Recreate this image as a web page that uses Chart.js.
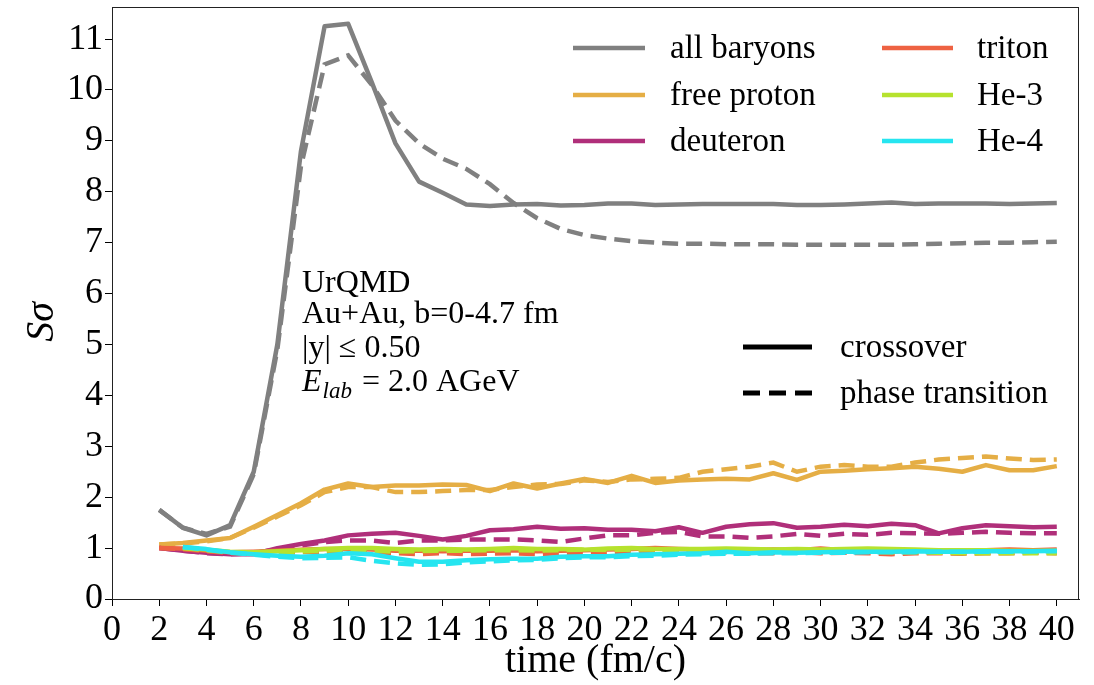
<!DOCTYPE html>
<html>
<head>
<meta charset="utf-8">
<script src="https://cdn.jsdelivr.net/npm/chart.js@4.4.1/dist/chart.umd.min.js"></script>
<style>
  html, body { margin: 0; padding: 0; background: #fff; }
  #wrap { width: 1094px; height: 685px; position: relative; }
</style>
</head>
<body>
<div id="wrap"><canvas id="c" width="1094" height="685"></canvas></div>
<script>
// ---------- data ----------
const time = [2,3,4,5,6,7,8,9,10,11,12,13,14,15,16,17,18,19,20,21,22,23,24,25,26,27,28,29,30,31,32,33,34,35,36,37,38,39,40];
const xTickLabels = [0,2,4,6,8,10,12,14,16,18,20,22,24,26,28,30,32,34,36,38,40];
const yTickLabels = [0,1,2,3,4,5,6,7,8,9,10,11];

const allBaryonsCross = [1.75,1.40,1.25,1.45,2.5,5.0,8.8,11.25,11.3,10.15,8.95,8.2,7.98,7.75,7.72,7.75,7.76,7.73,7.74,7.77,7.77,7.74,7.75,7.76,7.76,7.76,7.76,7.74,7.74,7.75,7.77,7.79,7.76,7.77,7.77,7.77,7.76,7.77,7.78];
const allBaryonsPT    = [1.75,1.40,1.28,1.42,2.45,4.9,8.5,10.5,10.68,10.1,9.4,8.95,8.65,8.45,8.15,7.78,7.48,7.27,7.15,7.08,7.03,7.0,6.98,6.98,6.97,6.97,6.97,6.96,6.96,6.96,6.96,6.96,6.97,6.98,6.99,7.0,7.0,7.01,7.02];

const protonCross = [1.07,1.1,1.15,1.2,1.42,1.65,1.88,2.15,2.27,2.2,2.23,2.23,2.25,2.24,2.12,2.27,2.17,2.27,2.36,2.28,2.42,2.28,2.33,2.35,2.36,2.35,2.47,2.34,2.5,2.52,2.55,2.57,2.6,2.56,2.5,2.63,2.53,2.53,2.61];
const protonPT    = [1.07,1.09,1.13,1.2,1.4,1.62,1.84,2.1,2.2,2.2,2.1,2.1,2.12,2.14,2.14,2.2,2.25,2.26,2.33,2.3,2.35,2.36,2.38,2.5,2.55,2.6,2.68,2.5,2.6,2.63,2.6,2.6,2.68,2.74,2.77,2.8,2.76,2.73,2.74];

const deuteronCross = [1.0,0.95,0.91,0.88,0.88,1.0,1.08,1.15,1.25,1.28,1.3,1.24,1.17,1.24,1.35,1.37,1.42,1.38,1.39,1.36,1.36,1.33,1.41,1.3,1.42,1.47,1.49,1.4,1.42,1.46,1.43,1.48,1.45,1.29,1.39,1.45,1.43,1.41,1.42];
const deuteronPT    = [1.0,0.95,0.9,0.88,0.9,0.98,1.05,1.12,1.15,1.15,1.1,1.15,1.15,1.17,1.17,1.17,1.15,1.12,1.19,1.25,1.25,1.3,1.32,1.23,1.23,1.2,1.23,1.28,1.24,1.28,1.26,1.3,1.29,1.28,1.3,1.32,1.3,1.29,1.29];

const tritonCross = [1.0,0.99,0.95,0.92,0.93,0.95,0.97,0.98,0.98,0.97,0.95,0.95,0.94,0.95,0.95,0.96,0.94,0.95,0.96,0.97,0.98,1.0,0.98,0.97,0.96,0.96,0.97,0.96,0.99,0.96,0.97,0.93,0.96,0.95,0.95,0.96,0.97,0.96,0.97];
const tritonPT    = [1.0,0.98,0.94,0.9,0.9,0.92,0.92,0.93,0.92,0.9,0.9,0.88,0.9,0.88,0.89,0.9,0.88,0.9,0.9,0.91,0.92,0.9,0.92,0.91,0.92,0.9,0.9,0.92,0.9,0.91,0.9,0.88,0.9,0.9,0.89,0.9,0.9,0.91,0.9];

const he3Cross = [null,1.0,0.97,0.93,0.92,0.94,0.96,0.98,1.0,1.0,0.98,0.97,0.98,0.97,0.98,1.0,0.98,0.98,0.97,0.99,1.0,0.98,0.98,0.98,0.99,0.98,0.97,0.98,0.97,0.98,0.99,0.98,0.97,0.96,0.96,0.96,0.95,0.95,0.95];
const he3PT    = [null,1.0,0.96,0.92,0.9,0.91,0.93,0.95,0.96,0.95,0.93,0.94,0.95,0.95,0.96,0.96,0.95,0.96,0.97,0.96,0.97,0.97,0.96,0.96,0.95,0.95,0.94,0.95,0.94,0.93,0.93,0.92,0.92,0.91,0.9,0.9,0.9,0.9,0.9];

const he4Cross = [null,1.02,0.98,0.92,0.88,0.85,0.83,0.85,0.9,0.88,0.8,0.73,0.73,0.76,0.78,0.79,0.79,0.83,0.84,0.84,0.87,0.88,0.89,0.9,0.93,0.9,0.92,0.91,0.92,0.93,0.93,0.93,0.94,0.93,0.93,0.94,0.94,0.94,0.95];
const he4PT    = [null,1.02,0.97,0.91,0.87,0.83,0.8,0.81,0.82,0.75,0.7,0.67,0.68,0.72,0.74,0.76,0.77,0.8,0.82,0.82,0.84,0.85,0.87,0.88,0.89,0.89,0.9,0.9,0.91,0.91,0.92,0.92,0.92,0.93,0.93,0.93,0.93,0.94,0.94];

const speciesNames = ['all baryons','free proton','deuteron','triton','He-3','He-4'];
const speciesColors = ['#808080','#e5ae45','#b02f7a','#ee6242','#b6e22e','#26e5f0'];
const crossSeries = [allBaryonsCross, protonCross, deuteronCross, tritonCross, he3Cross, he4Cross];
const ptSeries    = [allBaryonsPT, protonPT, deuteronPT, tritonPT, he3PT, he4PT];
const annotationLines = ['UrQMD', 'Au+Au, b=0-4.7 fm', '|y| \u2264 0.50'];
const styleLegend = ['crossover', 'phase transition'];

// ---------- build ----------
const FONT = "'Liberation Serif', 'Times New Roman', serif";
const toXY = arr => time.map((t, i) => ({x: t, y: arr[i]}));
const datasets = [];
let ord = 100;
speciesNames.forEach((name, i) => {
  datasets.push({label: name, data: toXY(crossSeries[i]), borderColor: speciesColors[i], borderWidth: 4.5,
    pointRadius: 0, tension: 0, spanGaps: false, borderJoinStyle: 'round', order: ord--});
  datasets.push({label: name + ' (phase transition)', data: toXY(ptSeries[i]), borderColor: speciesColors[i], borderWidth: 4.5,
    borderDash: [16, 8], pointRadius: 0, tension: 0, spanGaps: false, order: ord--});
});

const overlay = {
  id: 'overlay',
  afterDraw(chart) {
    const ctx = chart.ctx;
    const a = chart.chartArea;
    ctx.save();
    // frame
    ctx.strokeStyle = '#222';
    ctx.lineWidth = 1;
    ctx.strokeRect(a.left + 0.5, a.top + 0.5, a.right - a.left - 1, a.bottom - a.top);
    // species legend
    ctx.font = '33px ' + FONT;
    ctx.textBaseline = 'middle';
    ctx.fillStyle = '#000';
    const colX = [[573, 645, 670], [882, 953, 977]];
    const rowY = [48, 95, 141];
    speciesNames.forEach((n, i) => {
      const c = colX[Math.floor(i / 3)], y = rowY[i % 3];
      ctx.strokeStyle = speciesColors[i];
      ctx.lineWidth = 4.5;
      ctx.setLineDash([]);
      ctx.beginPath(); ctx.moveTo(c[0], y); ctx.lineTo(c[1], y); ctx.stroke();
      ctx.fillText(n, c[2], y + 1);
    });
    // style legend
    const sY = [347, 393];
    styleLegend.forEach((n, i) => {
      ctx.strokeStyle = '#000';
      ctx.lineWidth = 5;
      ctx.setLineDash(i === 0 ? [] : [17, 9]);
      ctx.beginPath(); ctx.moveTo(743, sY[i]); ctx.lineTo(812, sY[i]); ctx.stroke();
      ctx.fillText(n, 840, sY[i] + 1);
    });
    ctx.setLineDash([]);
    // annotation
    ctx.textBaseline = 'alphabetic';
    ctx.font = '32px ' + FONT;
    const baseY = [292, 323, 357];
    annotationLines.forEach((t, i) => ctx.fillText(t, 302, baseY[i]));
    let x = 302, y = 391;
    ctx.font = 'italic 32px ' + FONT;
    ctx.fillText('E', x, y); x += ctx.measureText('E').width + 1;
    ctx.font = 'italic 23px ' + FONT;
    ctx.fillText('lab', x, y + 7); x += ctx.measureText('lab').width + 2;
    ctx.font = '32px ' + FONT;
    ctx.fillText(' = 2.0 AGeV', x, y);
    // y axis title
    ctx.translate(42, 322);
    ctx.rotate(-Math.PI / 2);
    ctx.font = 'italic 40px ' + FONT;
    ctx.textAlign = 'center';
    ctx.textBaseline = 'middle';
    ctx.fillText('S\u03c3', 0, 0);
    ctx.restore();
  }
};

new Chart(document.getElementById('c'), {
  type: 'line',
  data: {datasets},
  options: {
    responsive: false,
    animation: false,
    events: [],
    layout: {padding: {left: 0, right: 15, top: 7, bottom: 0}},
    plugins: {legend: {display: false}, tooltip: {enabled: false}},
    scales: {
      x: {
        type: 'linear', min: 0, max: 40.94,
        afterBuildTicks: s => { s.ticks = xTickLabels.map(v => ({value: v})); },
        afterFit: s => { s.height = 86; s.paddingLeft = 0; s.paddingRight = 0; s.paddingTop = 0; s.paddingBottom = 0; },
        ticks: {font: {family: FONT, size: 36}, color: '#000', padding: 3, maxRotation: 0, autoSkip: false},
        grid: {display: true, drawOnChartArea: false, drawTicks: true, tickLength: 7, color: '#000', lineWidth: 1},
        border: {display: true, color: '#222', width: 1},
        title: {display: true, text: 'time (fm/c)', font: {family: FONT, size: 40, lineHeight: 1.2}, color: '#000', padding: {top: 0, bottom: 0}}
      },
      y: {
        type: 'linear', min: 0, max: 11.63,
        afterBuildTicks: s => { s.ticks = yTickLabels.map(v => ({value: v})); },
        afterFit: s => { s.width = 112; s.paddingTop = 0; s.paddingBottom = 0; s.paddingLeft = 0; s.paddingRight = 0; },
        ticks: {font: {family: FONT, size: 36}, color: '#000', padding: 2},
        grid: {display: true, drawOnChartArea: false, drawTicks: true, tickLength: 7, color: '#000', lineWidth: 1},
        border: {display: true, color: '#222', width: 1}
      }
    }
  },
  plugins: [overlay]
});
</script>
</body>
</html>
